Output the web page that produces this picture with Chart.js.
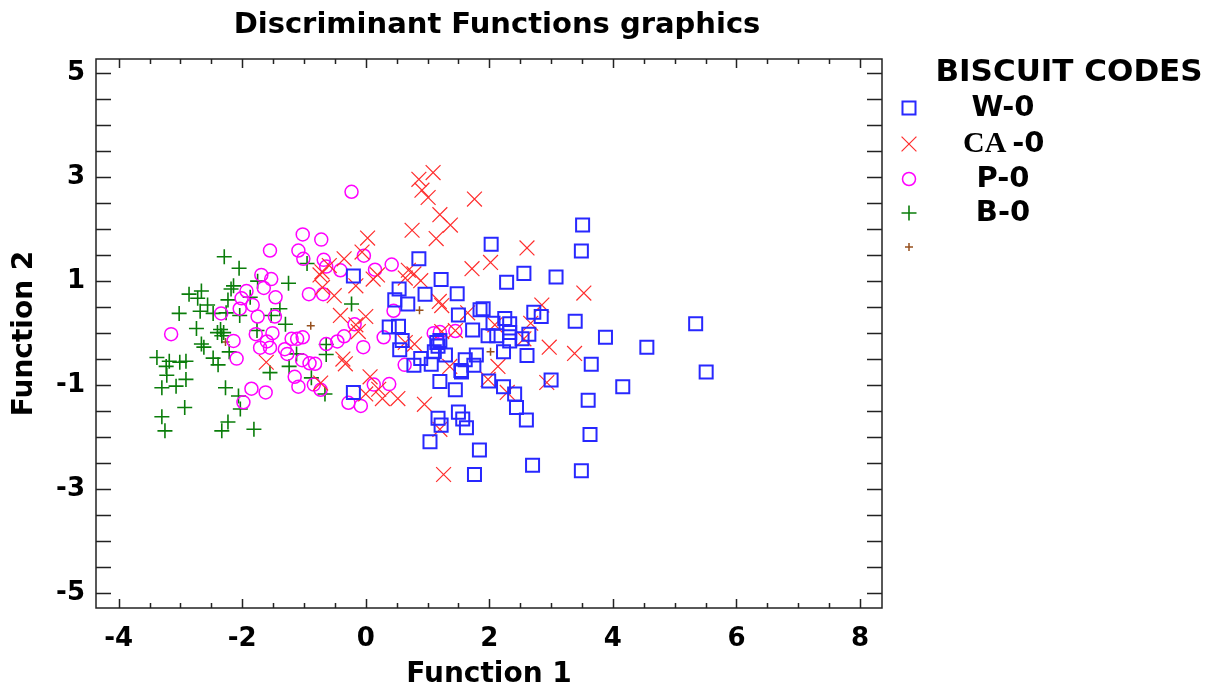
<!DOCTYPE html>
<html>
<head>
<meta charset="utf-8">
<title>Discriminant Functions graphics</title>
<script src="https://cdn.jsdelivr.net/npm/chart.js@4"></script>
<style>
  body { margin: 0; background: #fff; }
  canvas { display: block; }
</style>
</head>
<body>
<canvas id="myChart" width="1215" height="689"></canvas>
<script>
// Tick labels
var xTicks = [-4, -2, 0, 2, 4, 6, 8];
var yTicks = [-5, -3, -1, 1, 3, 5];

// Series names
var seriesNames = ['W-0', 'CA-0', 'P-0', 'B-0', ''];

// Points: [Function 1, Function 2]
var w0 = [[3.51,2.08],[3.49,1.58],[2.03,1.71],[0.86,1.43],[-0.20,1.10],[1.22,1.03],[2.28,0.98],[2.56,1.15],
  [3.08,1.08],[0.54,0.85],[0.96,0.75],[1.48,0.76],[0.47,0.64],[0.68,0.56],[1.50,0.35],[1.85,0.45],[1.90,0.47],
  [2.72,0.40],[2.84,0.32],[3.39,0.23],[5.34,0.18],[0.38,0.12],[0.53,0.13],[1.73,0.06],[2.06,0.19],[2.25,0.28],
  [2.33,0.18],[1.98,-0.05],[2.12,-0.05],[2.33,0.01],[2.64,-0.02],[2.53,-0.11],[2.33,-0.15],[3.88,-0.08],
  [4.55,-0.27],[0.59,-0.14],[1.20,-0.14],[1.17,-0.25],[0.55,-0.32],[1.11,-0.36],[1.29,-0.42],[0.89,-0.49],
  [0.78,-0.62],[1.06,-0.60],[1.61,-0.51],[1.79,-0.42],[1.75,-0.62],[1.54,-0.72],[1.55,-0.75],[2.23,-0.36],
  [2.61,-0.43],[3.65,-0.60],[5.51,-0.75],[1.20,-0.93],[1.45,-1.09],[1.99,-0.92],[2.23,-1.03],[2.41,-1.17],
  [3.00,-0.90],[4.16,-1.03],[-0.20,-1.14],[3.60,-1.29],[2.44,-1.43],[1.50,-1.52],[1.17,-1.64],[1.57,-1.65],
  [2.60,-1.67],[1.22,-1.77],[1.63,-1.82],[3.63,-1.95],[1.04,-2.09],[1.84,-2.25],[2.70,-2.54],[3.49,-2.65],
  [1.76,-2.72],[1.15,-0.18]];

var ca0 = [[1.09,3.09],[0.86,2.96],[0.91,2.75],[1.01,2.61],[1.76,2.58],[1.20,2.28],[1.37,2.08],[0.75,1.98],
  [1.14,1.82],[0.03,1.83],[-0.06,1.56],[2.61,1.64],[2.02,1.36],[1.72,1.24],[-0.35,1.43],[-0.59,1.30],
  [-0.74,1.12],[-0.16,0.91],[0.12,1.04],[0.19,1.12],[0.69,1.21],[0.78,1.14],[0.89,1.01],[0.64,1.06],
  [-0.70,0.88],[-0.51,0.72],[3.53,0.77],[1.19,0.61],[1.23,0.53],[1.65,0.39],[2.85,0.54],[-0.41,0.34],
  [0.00,0.32],[-0.16,0.16],[-0.12,0.03],[2.09,0.16],[2.67,0.19],[1.23,0.03],[1.45,0.05],[2.56,-0.11],
  [0.64,-0.18],[0.79,-0.21],[2.97,-0.27],[3.38,-0.39],[-1.61,-0.56],[-0.37,-0.50],[-0.33,-0.59],[0.07,-0.84],
  [2.14,-0.64],[1.36,-0.64],[-0.73,-0.96],[1.98,-0.89],[2.93,-0.95],[2.29,-1.14],[0.00,-1.17],[0.27,-1.26],
  [0.52,-1.26],[0.95,-1.37],[1.20,-1.85],[1.26,-2.72],[-0.71,1.18],[0.21,-1.08]];

var p0 = [[-0.23,2.72],[-1.02,1.90],[-0.72,1.80],[-1.55,1.59],[-1.09,1.59],[-1.01,1.43],[-0.68,1.41],
  [-0.03,1.49],[0.42,1.32],[-0.64,1.28],[-0.41,1.21],[0.15,1.22],[-1.69,1.12],[-1.53,1.04],[-1.65,0.87],
  [-1.46,0.69],[-0.92,0.75],[-0.69,0.75],[-1.93,0.81],[-2.01,0.67],[-1.83,0.54],[-2.04,0.47],[-1.75,0.32],
  [-2.34,0.38],[-1.47,0.32],[0.45,0.43],[-0.18,0.17],[-1.78,-0.02],[-1.51,0.00],[-1.60,-0.16],[-1.71,-0.28],
  [-1.55,-0.28],[-3.15,-0.02],[-2.14,-0.15],[-1.20,-0.11],[-1.11,-0.11],[-1.02,-0.08],[-1.31,-0.31],
  [-1.27,-0.40],[-1.03,-0.52],[-0.91,-0.58],[-0.82,-0.59],[-0.64,-0.21],[-0.46,-0.16],[-0.35,-0.06],
  [-0.04,-0.27],[0.29,-0.08],[-2.09,-0.49],[0.63,-0.61],[-1.15,-0.84],[-1.09,-1.03],[-0.84,-0.99],
  [-0.73,-1.09],[-1.85,-1.07],[-1.62,-1.14],[0.13,-0.99],[0.38,-0.98],[-1.98,-1.33],[-0.28,-1.34],
  [-0.08,-1.40],[1.10,0.00],[1.20,0.02],[1.45,0.04]];

var b0 = [[-2.29,1.47],[-2.05,1.25],[-2.14,0.91],[-2.18,0.85],[-1.75,1.00],[-1.25,0.96],[-0.95,1.34],
  [-2.86,0.75],[-2.66,0.81],[-2.72,0.67],[-2.56,0.54],[-2.68,0.42],[-2.47,0.38],[-2.23,0.64],[-1.87,0.69],
  [-3.02,0.38],[-2.04,0.34],[-1.39,0.47],[-0.23,0.56],[-1.53,0.34],[-1.30,0.17],[-2.74,0.09],[-2.35,0.07],
  [-2.30,0.01],[-2.33,-0.05],[-1.76,0.05],[-2.66,-0.21],[-2.62,-0.27],[-2.21,-0.36],[-3.38,-0.47],
  [-3.18,-0.54],[-3.01,-0.56],[-2.91,-0.54],[-3.23,-0.64],[-2.47,-0.48],[-2.39,-0.61],[-1.12,-0.40],
  [-0.64,-0.22],[-0.64,-0.41],[-1.55,-0.76],[-3.22,-0.81],[-2.91,-0.89],[-3.07,-1.02],[-3.30,-1.05],
  [-1.24,-0.64],[-0.88,-0.86],[-2.27,-1.05],[-2.06,-1.21],[-2.03,-1.46],[-0.66,-1.17],[-2.93,-1.43],
  [-3.30,-1.61],[-3.25,-1.88],[-2.23,-1.71],[-2.33,-1.88],[-1.81,-1.85],[-2.26,0.39],[-2.40,0.01]];

var other = [[0.87,0.44],[-0.89,0.14],[2.02,-0.36],[-2.27,-0.17]];

function toPoints(list) {
    return list.map(function (p) { return { x: p[0], y: p[1] }; });
}

var FONT = '"DejaVu Sans", sans-serif';

var styles = [
    { color: 'rgb(40,40,255)', pointStyle: 'rect', radius: 9.2, width: 2 },
    { color: 'rgb(255,45,45)', pointStyle: 'crossRot', radius: 10.5, width: 1.2 },
    { color: 'rgb(255,0,255)', pointStyle: 'circle', radius: 6.5, width: 1.5 },
    { color: 'rgb(10,125,10)', pointStyle: 'cross', radius: 7.5, width: 1.6 },
    { color: 'rgb(150,80,30)', pointStyle: 'cross', radius: 4, width: 1.5 }
];
var seriesData = [w0, ca0, p0, b0, other];

// Simple marker drawing for the legend
function drawMarker(ctx, st, x, y) {
    var r = st.radius;
    ctx.save();
    ctx.strokeStyle = st.color;
    ctx.lineWidth = st.width;
    ctx.beginPath();
    if (st.pointStyle === 'rect') {
        var s = r * Math.SQRT1_2;
        ctx.rect(x - s, y - s, 2 * s, 2 * s);
    } else if (st.pointStyle === 'crossRot') {
        var o = r * Math.SQRT1_2;
        ctx.moveTo(x - o, y - o); ctx.lineTo(x + o, y + o);
        ctx.moveTo(x + o, y - o); ctx.lineTo(x - o, y + o);
    } else if (st.pointStyle === 'circle') {
        ctx.arc(x, y, r, 0, Math.PI * 2);
    } else {
        ctx.moveTo(x - r, y); ctx.lineTo(x + r, y);
        ctx.moveTo(x, y - r); ctx.lineTo(x, y + r);
    }
    ctx.stroke();
    ctx.restore();
}

// Frame, inward ticks, title and legend
var framePlugin = {
    id: 'frame',
    afterDraw: function (chart) {
        var ctx = chart.ctx;
        var a = chart.chartArea;
        var xs = chart.scales.x, ys = chart.scales.y;
        ctx.save();
        ctx.strokeStyle = '#222';
        ctx.lineWidth = 1.5;
        ctx.strokeRect(a.left, a.top, a.right - a.left, a.bottom - a.top);

        ctx.beginPath();
        for (var v = -4; v <= 8.001; v += 0.5) {
            var px = Math.round(xs.getPixelForValue(v)) + 0.5;
            var len = (Math.abs(v % 2) < 0.01) ? 9 : 5;
            ctx.moveTo(px, a.bottom); ctx.lineTo(px, a.bottom - len);
            ctx.moveTo(px, a.top); ctx.lineTo(px, a.top + len);
        }
        for (var w = -5; w <= 5.001; w += 0.5) {
            var py = Math.round(ys.getPixelForValue(w)) + 0.5;
            ctx.moveTo(a.left, py); ctx.lineTo(a.left + 15, py);
            ctx.moveTo(a.right, py); ctx.lineTo(a.right - 15, py);
        }
        ctx.stroke();

        // title
        ctx.fillStyle = '#000';
        ctx.textAlign = 'center';
        ctx.textBaseline = 'middle';
        ctx.font = 'bold 29px ' + FONT;
        ctx.fillText('Discriminant Functions graphics', 497, 25);

        // legend
        ctx.font = 'bold 31px ' + FONT;
        ctx.fillText('BISCUIT CODES', 1069, 73);
        var rowY = [108, 144, 179, 213, 247];
        for (var i = 0; i < styles.length; i++) {
            drawMarker(ctx, styles[i], 909, rowY[i]);
            var name = seriesNames[i];
            if (!name) continue;
            if (name === 'CA-0') {
                ctx.textAlign = 'left';
                ctx.font = 'bold 30px "Liberation Serif", serif';
                ctx.fillText('CA', 963, rowY[i]);
                var wCA = ctx.measureText('CA').width;
                ctx.font = 'bold 29px ' + FONT;
                ctx.fillText('-0', 963 + wCA + 6, rowY[i]);
                ctx.textAlign = 'center';
            } else {
                ctx.font = 'bold 29px ' + FONT;
                ctx.fillText(name, 1003, rowY[i]);
            }
        }
        ctx.restore();
    }
};

var datasets = seriesData.map(function (list, i) {
    var st = styles[i];
    return {
        label: seriesNames[i],
        data: toPoints(list),
        pointStyle: st.pointStyle,
        pointRadius: st.radius,
        pointHoverRadius: st.radius,
        pointBorderWidth: st.width,
        borderColor: st.color,
        backgroundColor: 'rgba(0,0,0,0)',
        showLine: false
    };
});

var ctx = document.getElementById('myChart').getContext('2d');
var myChart = new Chart(ctx, {
    type: 'scatter',
    data: { datasets: datasets },
    plugins: [framePlugin],
    options: {
        responsive: false,
        animation: false,
        devicePixelRatio: 1,
        layout: { padding: { top: 59, right: 333, left: 0, bottom: 0 } },
        plugins: {
            legend: { display: false },
            title: { display: false },
            tooltip: { enabled: false }
        },
        scales: {
            x: {
                type: 'linear',
                min: -4.366,
                max: 8.356,
                afterBuildTicks: function (s) { s.ticks = xTicks.map(function (v) { return { value: v }; }); },
                afterFit: function (s) { s.height = 81; },
                grid: { display: false, drawTicks: false },
                border: { display: false },
                ticks: {
                    color: '#000',
                    padding: 16,
                    maxRotation: 0,
                    font: { family: FONT, weight: 'bold', size: 26 }
                },
                title: {
                    display: true,
                    text: 'Function 1',
                    color: '#000',
                    padding: 0,
                    font: { family: FONT, weight: 'bold', size: 28, lineHeight: 1 }
                }
            },
            y: {
                type: 'linear',
                min: -5.289,
                max: 5.275,
                afterBuildTicks: function (s) { s.ticks = yTicks.map(function (v) { return { value: v }; }); },
                afterFit: function (s) { s.width = 96; },
                grid: { display: false, drawTicks: false },
                border: { display: false },
                ticks: {
                    color: '#000',
                    padding: 11,
                    font: { family: FONT, weight: 'bold', size: 26 }
                },
                title: {
                    display: true,
                    text: 'Function 2',
                    color: '#000',
                    padding: { top: 11, bottom: 0 },
                    font: { family: FONT, weight: 'bold', size: 28, lineHeight: 1 }
                }
            }
        }
    }
});
</script>
</body>
</html>
